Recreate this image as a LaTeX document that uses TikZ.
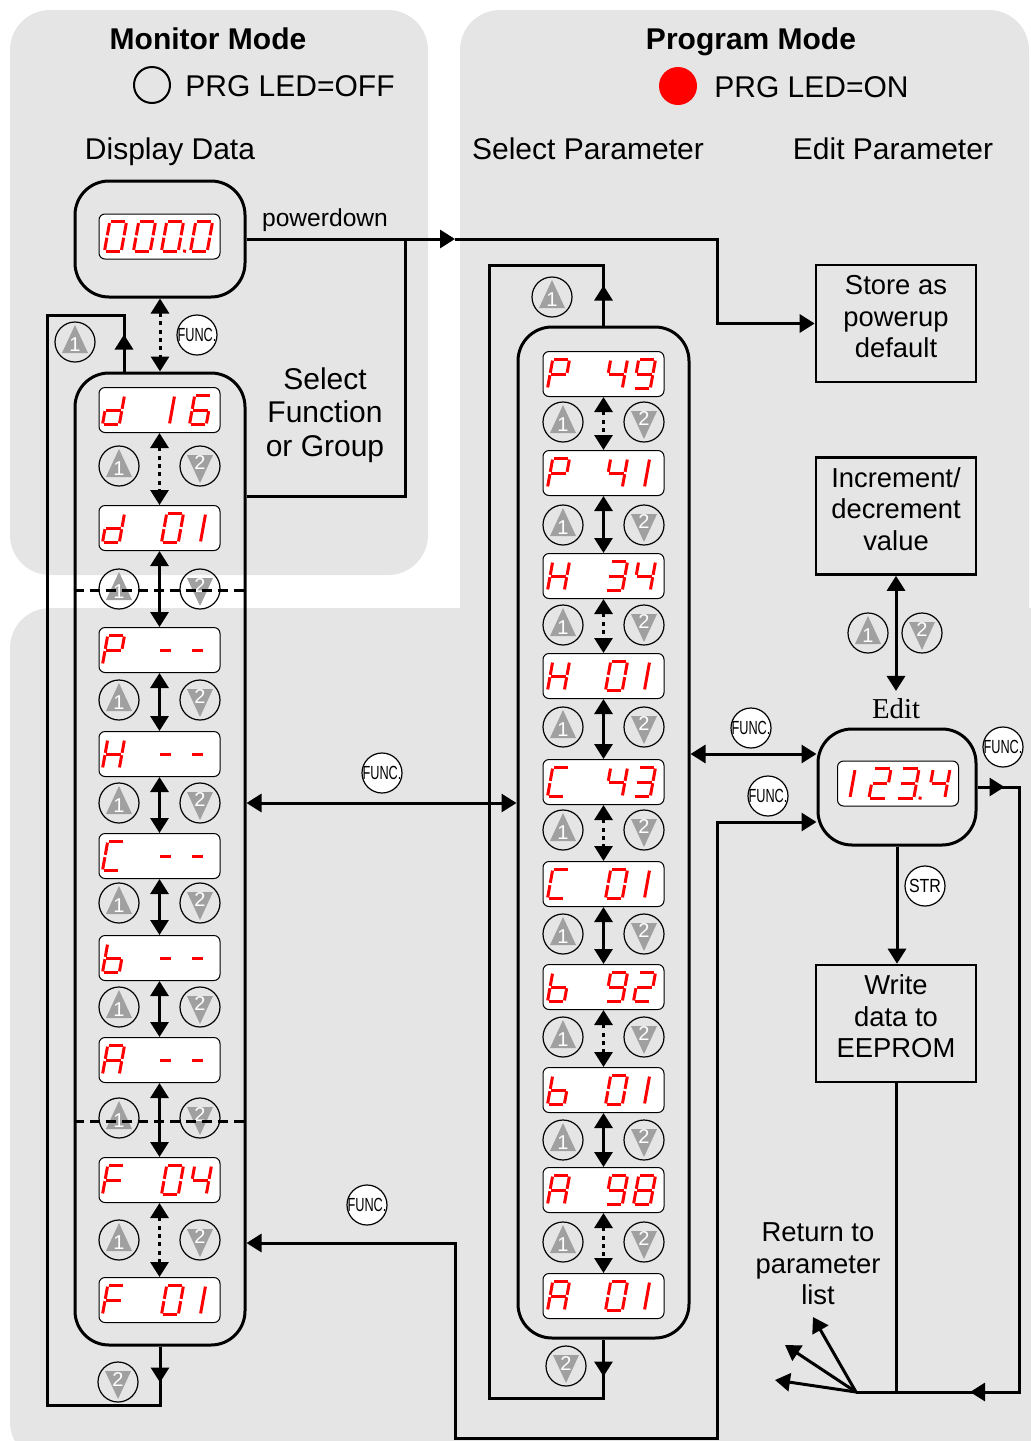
\documentclass[tikz,border=0pt]{standalone}
\usepackage{fontspec}
\setmainfont{Liberation Sans}
\newfontfamily\seriffont{Liberation Serif}
\usepackage{tikz}
\usetikzlibrary{arrows.meta}
\usetikzlibrary{calc}
\usetikzlibrary{positioning}

\definecolor{panel}{RGB}{229,229,229}
\definecolor{keygray}{RGB}{160,160,160}

\newcommand\lblfont{\fontsize{15}{16.75}\selectfont}
\newcommand\boxfont{\fontsize{13.7}{15.75}\selectfont}
\newcommand\keyfont{\fontsize{10}{10}\selectfont}

% seven segment parts, unit grid
\def\sgA{-1/-1/1/-1}
\def\sgB{1/-1/1/0}
\def\sgC{1/0/1/1}
\def\sgD{-1/1/1/1}
\def\sgE{-1/0/-1/1}
\def\sgF{-1/-1/-1/0}
\def\sgG{-1/0/1/0}
\newcommand{\defseg}[2]{\expandafter\edef\csname segch#1\endcsname{#2}}
\defseg{0}{\sgA,\sgB,\sgC,\sgD,\sgE,\sgF}
\defseg{1}{0.3/-1/0.3/1}
\defseg{2}{\sgA,\sgB,\sgG,\sgE,\sgD}
\defseg{3}{\sgA,\sgB,\sgG,\sgC,\sgD}
\defseg{4}{\sgF,\sgG,\sgB,\sgC}
\defseg{6}{\sgA,\sgF,\sgG,\sgE,\sgD,\sgC}
\defseg{8}{\sgA,\sgB,\sgC,\sgD,\sgE,\sgF,\sgG}
\defseg{9}{\sgA,\sgB,\sgC,\sgD,\sgF,\sgG}
\defseg{d}{\sgB,\sgC,\sgD,\sgE,\sgG}
\defseg{P}{\sgA,\sgB,\sgF,\sgG,\sgE}
\defseg{H}{\sgB,\sgC,\sgE,\sgF,\sgG}
\defseg{C}{\sgA,\sgD,\sgE,\sgF}
\defseg{b}{\sgC,\sgD,\sgE,\sgF,\sgG}
\defseg{A}{\sgA,\sgB,\sgC,\sgE,\sgF,\sgG}
\defseg{F}{\sgA,\sgE,\sgF,\sgG}
\defseg{-}{-0.85/0/0.85/0}
\defseg{.}{1.75/0.82/1.75/1.18}

\newcommand{\segchar}[3]{%
  \edef\seglist{\csname segch#3\endcsname}%
  \begin{scope}[shift={($(#1.center)+(#2,0)$)}, x=4.2pt, y=-7.3pt, xslant=0.18]
    \foreach \xa/\ya/\xb/\yb in \seglist {\draw[seg] (\xa,\ya) -- (\xb,\yb);}
  \end{scope}}
\newcommand{\lcdtext}[2]{\foreach \off/\ch in {#2} {\segchar{#1}{\off}{\ch}}}

\tikzset{
  seg/.style={draw=red, line width=1.5pt, shorten <=0.6pt, shorten >=0.6pt},
  lcd/.style={draw, fill=white, rounded corners=3pt, line width=0.5pt,
    minimum width=60.5pt, minimum height=22.5pt, inner sep=0pt},
  unit/.style={draw, rounded corners=17pt, line width=1.5pt, inner sep=0pt},
  infobox/.style={draw, line width=1.3pt, minimum width=80pt, minimum height=58.5pt,
    align=center, font=\boxfont, text depth=7pt},
  lbl/.style={font=\lblfont, anchor=base},
  head/.style={font=\lblfont\bfseries, anchor=base},
  link/.style={line width=1.5pt},
  tri/.tip={Triangle[length=7.5pt,width=9pt]},
  dbl/.style={link, tri-tri},
  dots/.style={link, tri-tri, dash pattern=on 2pt off 2.2pt},
  key/.style={circle, draw, line width=0.6pt, minimum size=20pt, inner sep=0pt},
  upkey/.style={key, path picture={
      \fill[keygray] ([yshift=8.5pt]path picture bounding box.center)
        -- ++(-6.5pt,-14pt) -- ++(13pt,0) -- cycle;
      \node[text=white, font=\keyfont] at ([yshift=-1.5pt]path picture bounding box.center) {1};}},
  downkey/.style={key, path picture={
      \fill[keygray] ([yshift=-8.5pt]path picture bounding box.center)
        -- ++(-6.5pt,14pt) -- ++(13pt,0) -- cycle;
      \node[text=white, font=\keyfont] at ([yshift=1.5pt]path picture bounding box.center) {2};}},
  fkey/.style={key, fill=white, font=\fontsize{9.5}{9.5}\selectfont},
}
\newcommand{\func}{\makebox[16pt]{\scalebox{0.67}[1]{FUNC.}}}

\begin{document}
\begin{tikzpicture}[x=0.5pt, y=-0.5pt]
  \useasboundingbox (0,0) rectangle (1030,1441);
  % mode panels
  \fill[panel, rounded corners=20pt] (10,10) rectangle (428,575);
  \fill[panel, rounded corners=20pt] (460,10) rectangle (1029,720);
  \fill[panel, rounded corners=20pt] (10,608) rectangle (1070,1462);

  % headings
  \node[head] (monhead) at (208,49) {Monitor Mode};
  \node[circle, draw, line width=1pt, minimum size=18pt] (ledoff) at (152,85) {};
  \node[lbl, anchor=base west, inner xsep=0pt] (offtxt) at (185,96) {PRG LED=OFF};
  \node[head] (proghead) at (751,49) {Program Mode};
  \node[circle, fill=red, minimum size=19pt] (ledon) at (678,86) {};
  \node[lbl, anchor=base west, inner xsep=0pt] (ontxt) at (714,97) {PRG LED=ON};
  \node[lbl] (dsptxt) at (170,159) {Display Data};
  \node[lbl] (seltxt) at (588,159) {Select Parameter};
  \node[lbl] (edttxt) at (893,159) {Edit Parameter};
  \node[font=\fontsize{12.3}{14}\selectfont, anchor=base] (pdtxt) at (325,226) {powerdown};
  \node[font=\lblfont, align=center] (fntxt) at (325,415) {Select\\Function\\or Group};
  \node[font=\boxfont, align=center] (rettxt) at (818,1264) {Return to\\parameter\\list};
  \node[font=\seriffont\fontsize{14.4}{16}\selectfont, anchor=base] (editlbl) at (896,718) {Edit};

  % units
  \node[unit, minimum width=85pt, minimum height=58pt] (monunit) at (160,239) {};
  \node[unit, minimum width=85pt, minimum height=486pt] (Lbox) at (160,859) {};
  \node[unit, minimum width=85.5pt, minimum height=505.5pt] (Rbox) at (603.5,832.5) {};
  \node[unit, minimum width=79pt, minimum height=58pt] (edit) at (897,787) {};
  \node[infobox] (store) at (896,323.5) {Store as\\powerup\\default};
  \node[infobox] (inc) at (896,516) {Increment/\\decrement\\value};
  \node[infobox] (write) at (896,1023.5) {Write\\data to\\EEPROM};

  % displays
  \node[lcd] (mon) at (159.5,236.5) {};  \lcdtext{mon}{-44/0,-15/0,13/0,13/.,42/0}
  \node[lcd] (edlcd) at (898,783.5) {};  \lcdtext{edlcd}{-48/1,-18/2,10/3,10/.,41/4}
  \node[lcd] (L1) at (159.5,410) {};  \lcdtext{L1}{-46/d,10/1,41/6}
  \node[lcd] (L2) at (159.5,528) {};  \lcdtext{L2}{-46/d,13/0,41/1}
  \node[lcd] (L3) at (159.5,650) {};  \lcdtext{L3}{-46/P,6/-,38/-}
  \node[lcd] (L4) at (159.5,754) {};  \lcdtext{L4}{-46/H,6/-,38/-}
  \node[lcd] (L5) at (159.5,856) {};  \lcdtext{L5}{-46/C,6/-,38/-}
  \node[lcd] (L6) at (159.5,958) {};  \lcdtext{L6}{-46/b,6/-,38/-}
  \node[lcd] (L7) at (159.5,1060) {}; \lcdtext{L7}{-46/A,6/-,38/-}
  \node[lcd] (L8) at (159.5,1180) {}; \lcdtext{L8}{-46/F,13/0,41/4}
  \node[lcd] (L9) at (159.5,1300) {}; \lcdtext{L9}{-46/F,13/0,41/1}
  \node[lcd] (R1) at (603.5,374) {};  \lcdtext{R1}{-45/P,13/4,41/9}
  \node[lcd] (R2) at (603.5,473) {};  \lcdtext{R2}{-45/P,13/4,41/1}
  \node[lcd] (R3) at (603.5,576) {};  \lcdtext{R3}{-45/H,13/3,41/4}
  \node[lcd] (R4) at (603.5,676) {};  \lcdtext{R4}{-45/H,13/0,41/1}
  \node[lcd] (R5) at (603.5,782) {};  \lcdtext{R5}{-45/C,13/4,41/3}
  \node[lcd] (R6) at (603.5,884) {};  \lcdtext{R6}{-45/C,13/0,41/1}
  \node[lcd] (R7) at (603.5,987) {};  \lcdtext{R7}{-45/b,13/9,41/2}
  \node[lcd] (R8) at (603.5,1090) {}; \lcdtext{R8}{-45/b,13/0,41/1}
  \node[lcd] (R9) at (603.5,1190) {}; \lcdtext{R9}{-45/A,13/9,41/8}
  \node[lcd] (R10) at (603.5,1296) {}; \lcdtext{R10}{-45/A,13/0,41/1}

  % keys
  \foreach \y in {466,589,700,803,903,1007,1118,1240}{
    \node[upkey] (lu\y) at (119,\y) {};
    \node[downkey] (ld\y) at (200,\y) {};
  }
  \foreach \y in {422,525,625,727,830,934,1037,1140,1242}{
    \node[upkey] (ru\y) at (563,\y) {};
    \node[downkey] (rd\y) at (644,\y) {};
  }
  \node[upkey] (kloopl) at (75,342) {};
  \node[downkey] (kloopl2) at (118,1382) {};
  \node[upkey] (kloopr) at (552,297) {};
  \node[downkey] (kloopr2) at (566,1366) {};
  \node[upkey] (kinc) at (868,633) {};
  \node[downkey] (kdec) at (922,633) {};
  \node[fkey] (f1) at (197,335) {\func};
  \node[fkey] (f2) at (382,773) {\func};
  \node[fkey] (f3) at (367,1205) {\func};
  \node[fkey] (f4) at (751,728) {\func};
  \node[fkey] (f5) at (768,796) {\func};
  \node[fkey] (f6) at (1003,747) {\func};
  \node[fkey] (kstr) at (925,886) {\scalebox{0.84}[1]{STR}};

  % group separators
  \draw[line width=1.5pt, dash pattern=on 5pt off 3pt] (Lbox.west |- 0,590) -- (Lbox.east |- 0,590);
  \draw[line width=1.5pt, dash pattern=on 5pt off 3pt] (Lbox.west |- 0,1121) -- (Lbox.east |- 0,1121);

  % steps in the lists
  \draw[dots] (monunit) -- (Lbox);
  \foreach \a/\b/\s in {L1/L2/dots, L2/L3/dbl, L3/L4/dbl, L4/L5/dbl, L5/L6/dbl,
      L6/L7/dbl, L7/L8/dbl, L8/L9/dots}
    \draw[\s] (\a) -- (\b);
  \foreach \a/\b/\s in {R1/R2/dots, R2/R3/dbl, R3/R4/dots, R4/R5/dbl, R5/R6/dots,
      R6/R7/dbl, R7/R8/dots, R8/R9/dbl, R9/R10/dots}
    \draw[\s] (\a) -- (\b);

  % wrap-around loops
  \draw[link] (Lbox.north -| 124,0) -- (124,315) -| (47,1405) -| (Lbox.south);
  \draw[link,-tri] (Lbox.north -| 124,0) -- ++(0,-37);
  \draw[link,-tri] (Lbox.south) -- ++(0,36);
  \draw[link] (Rbox.north) -- (603.5,265) -| (489,1398) -| (Rbox.south);
  \draw[link,-tri] (Rbox.north) -- ++(0,-40);
  \draw[link,-tri] (Rbox.south) -- ++(0,37);

  % powerdown
  \coordinate (pwr) at (455,239);
  \coordinate (pjoin) at (405,239);
  \coordinate (pturn) at (717,239);
  \draw[link,-tri] (monunit.east) -- (pwr);
  \draw[link,-tri] (pwr) -- (pturn) |- (store.west);
  \draw[link] (Lbox.east |- 0,496) -| (pjoin);

  % mode changes
  \draw[dbl] (Lbox.east |- 0,803) -- (Rbox.west |- 0,803);
  \draw[dbl] (Rbox.east |- 0,754) -- (edit.west |- 0,754);
  \draw[link, tri-tri] (Lbox.east |- 0,1243) -- (455,1243) -- (455,1438) -- (717,1438) |- (edit.west |- 0,822);
  \draw[dbl] (inc.south) -- (inc.south |- editlbl.north);
  \draw[link,-tri] (edit.south) -- (edit.south |- write.north);

  % return to list
  \coordinate (fan) at (856,1392);
  \coordinate (rcorner) at (1019,1392);
  \coordinate (ret1) at (813,1317);
  \coordinate (ret2) at (785,1345);
  \coordinate (ret3) at (775,1380);
  \draw[link] (edit.east) -- (edit.east -| rcorner) -- (rcorner) -- (fan);
  \draw[link,-tri] (edit.east) -- ++(27,0);
  \draw[link,-tri] (rcorner) -- ++(-49,0);
  \draw[link] (write.south) -- (write.south |- fan);
  \foreach \r in {ret1,ret2,ret3}
    \draw[link,-tri] (fan) -- (\r);
\end{tikzpicture}
\end{document}
